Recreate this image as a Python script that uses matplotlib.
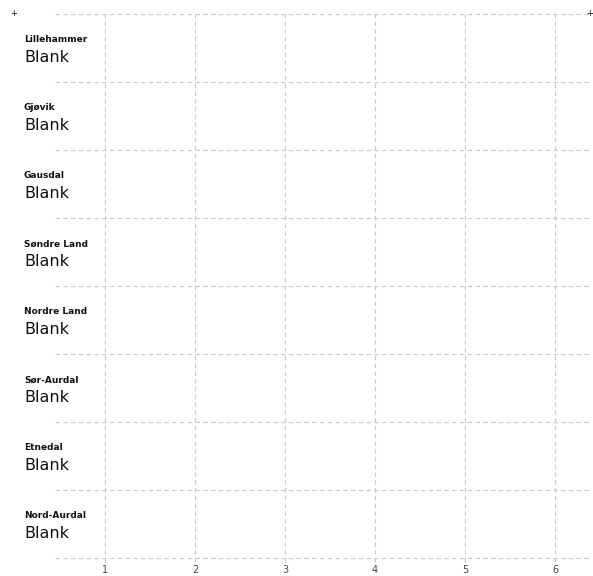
import matplotlib.pyplot as plt
import numpy as np
from matplotlib.transforms import blended_transform_factory

# kommuner, top to bottom
regions = ["Lillehammer", "Gjøvik", "Gausdal", "Søndre Land",
           "Nordre Land", "Sør-Aurdal", "Etnedal", "Nord-Aurdal"]
values = ["Blank"] * len(regions)
xticks = [1, 2, 3, 4, 5, 6]

W, H = 593, 576
fig = plt.figure(figsize=(W / 100, H / 100), dpi=100)
ax = fig.add_axes([55 / W, 1 - 558 / H, (590 - 55) / W, (558 - 14) / H])

n = len(regions)
ax.set_xlim(1 - 50 / 90, 6 + 35 / 90)
ax.set_ylim(n, 0)

grid_kw = dict(color="#c8c8c8", linewidth=0.8, dashes=(4, 3))
for yb in range(n + 1):
    ax.axhline(yb, clip_on=False, **grid_kw)
for xv in xticks:
    ax.plot([xv, xv], [n + 0.06, 0], clip_on=False, **grid_kw)

for s in ax.spines.values():
    s.set_visible(False)
ax.set_yticks([])
ax.set_xticks(xticks)
ax.set_xticklabels([str(x) for x in xticks])
ax.tick_params(axis="x", length=0, pad=5, labelsize=7, labelcolor="#444444")

tr = blended_transform_factory(fig.transFigure, ax.transData)
for i, (reg, val) in enumerate(zip(regions, values)):
    ax.text(24 / W, i + 0.38, reg, transform=tr, fontsize=6.5,
            fontweight="bold", va="center", ha="left", color="#111111")
    ax.text(24 / W, i + 0.64, val, transform=tr, fontsize=11.5,
            va="center", ha="left", color="#111111")

fig.text(14 / W, 1 - 13 / H, "+", fontsize=6, ha="center", va="center")
fig.text(590 / W, 1 - 14 / H, "+", fontsize=6, ha="center", va="center")

fig.savefig("out.png", dpi=100)
